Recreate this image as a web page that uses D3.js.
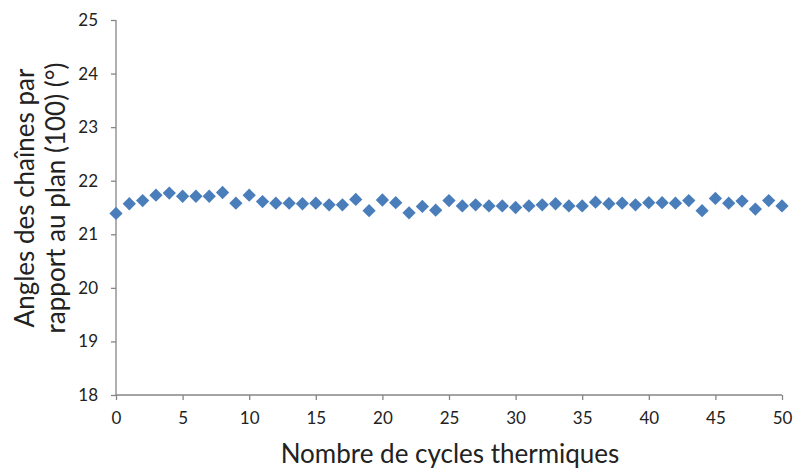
<!DOCTYPE html>
<html><head><meta charset="utf-8">
<script src="https://cdn.jsdelivr.net/npm/d3@7"></script>
<style>body{margin:0;background:#fff}svg{display:block}</style>
</head><body>
<svg id="c" width="796" height="468"></svg>
<script>
const cycles = d3.range(0, 51);
const angles = [21.39,21.57,21.63,21.73,21.77,21.71,21.71,21.71,21.78,21.58,
21.73,21.61,21.58,21.58,21.57,21.58,21.55,21.55,21.65,21.44,
21.64,21.59,21.40,21.52,21.45,21.63,21.53,21.55,21.53,21.53,
21.50,21.53,21.55,21.57,21.53,21.53,21.60,21.57,21.58,21.55,
21.59,21.59,21.58,21.63,21.44,21.67,21.58,21.62,21.47,21.63,21.53];
const xTicks = [0,5,10,15,20,25,30,35,40,45,50];
const yTicks = [18,19,20,21,22,23,24,25];
const xTitle = "Nombre de cycles thermiques";
const yTitle = ["Angles des chaînes par", "rapport au plan (100) (°)"];

const svg = d3.select("#c");
const font = "Lato, 'Open Sans', sans-serif";
const x = d3.scaleLinear().domain([0,50]).range([116,782]);
const y = d3.scaleLinear().domain([18,25]).range([395,20]);
const axisColor = "#868686";

const gx = svg.append("g").attr("transform","translate(0,395)")
  .call(d3.axisBottom(x).tickValues(xTicks).tickFormat(d3.format("d")).tickSize(5).tickPadding(12));
const gy = svg.append("g").attr("transform","translate(116,0)")
  .call(d3.axisLeft(y).tickValues(yTicks).tickFormat(d3.format("d")).tickSize(5).tickPadding(13));
[gx,gy].forEach(g=>{
  g.select(".domain").attr("stroke",axisColor).attr("stroke-width",1.3);
  g.selectAll(".tick line").attr("stroke",axisColor).attr("stroke-width",1.3);
  g.selectAll(".tick text").attr("fill","#222").style("font-family",font).style("font-size","17px");
});
gx.select(".domain").attr("d","M116,0H782");
gy.select(".domain").attr("d","M0,20V395");

svg.append("g").selectAll("path").data(cycles).join("path")
  .attr("d", d3.symbol().type(d3.symbolSquare).size(88))
  .attr("transform", (d,i)=>`translate(${x(d)},${y(angles[i])}) rotate(45)`)
  .attr("fill","#4a7ebb");

svg.append("text").attr("x",450).attr("y",463).attr("text-anchor","middle")
  .style("font-family",font).style("font-size","26px").attr("fill","#222").text(xTitle);

const yt = svg.append("text").attr("transform","translate(0,198) rotate(-90)")
  .attr("text-anchor","middle").style("font-family",font).style("font-size","26px").attr("fill","#222");
yt.append("tspan").attr("x",0).attr("y",34).text(yTitle[0]);
yt.append("tspan").attr("x",0).attr("y",65).text(yTitle[1]);
</script>
</body></html>
